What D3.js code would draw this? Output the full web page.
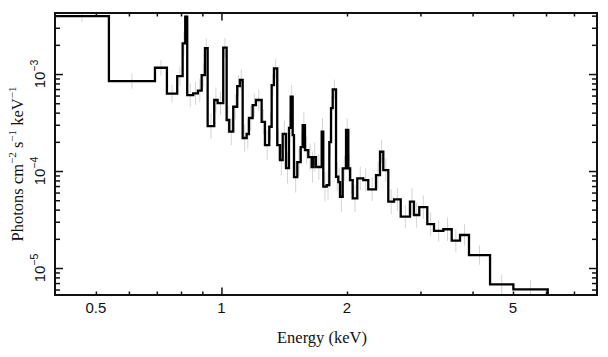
<!DOCTYPE html>
<html><head><meta charset="utf-8">
<script src="https://cdn.jsdelivr.net/npm/d3@7"></script>
<style>
html,body{margin:0;padding:0;background:#fff;}
svg{display:block;}
</style></head>
<body>
<svg id="chart" width="608" height="357"></svg>
<script>
// Bin edges (keV)
const binEdges = [0.399,0.5373,0.6928,0.7401,0.7834,0.8072,0.8188,0.8279,0.8557,0.8783,
  0.8966,0.9130,0.9267,0.9610,0.9792,1.0100,1.0291,1.0440,1.0673,1.0911,
  1.1074,1.1243,1.1493,1.1640,1.1880,1.2098,1.2485,1.2715,1.3020,1.3195,
  1.3363,1.3608,1.3815,1.4023,1.4280,1.4519,1.4654,1.4817,1.4926,1.5200,
  1.5487,1.5659,1.5859,1.6152,1.6456,1.6620,1.6852,1.7392,1.7546,1.7880,
  1.8139,1.8311,1.8484,1.8824,1.9064,1.9245,1.9531,1.9894,2.0147,2.0337,
  2.0640,2.1167,2.1878,2.2492,2.3472,2.3997,2.4435,2.5119,2.5929,2.6905,
  2.8314,2.8946,2.9804,3.1154,3.2332,3.4033,3.5648,3.7320,3.9219,4.4053,
  5.0104,6.0563];
// Model flux per bin (photons cm^-2 s^-1 keV^-1)
const modelFlux = [3.963e-3,8.47e-4,1.161e-3,6.29e-4,9.54e-4,2.072e-3,3.897e-3,6.07e-4,6.32e-4,6.76e-4,
  9.76e-4,1.853e-3,2.91e-4,5.40e-4,5.02e-4,1.875e-3,3.36e-4,2.55e-4,4.60e-4,7.52e-4,
  8.68e-4,2.19e-4,2.41e-4,3.52e-4,4.79e-4,5.40e-4,3.22e-4,1.853e-4,2.86e-4,7.70e-4,
  1.145e-3,1.853e-4,1.298e-4,2.41e-4,1.074e-4,2.78e-4,5.83e-4,2.35e-4,8.67e-5,1.238e-4,
  1.768e-4,2.98e-4,1.646e-4,1.394e-4,1.10e-4,1.394e-4,1.10e-4,2.54e-4,6.89e-5,7.17e-5,
  1.99e-4,4.46e-4,6.96e-4,8.73e-5,7.70e-5,5.43e-5,1.066e-4,2.65e-4,1.066e-4,8.07e-5,
  5.23e-5,8.41e-5,8.07e-5,6.48e-5,9.09e-5,1.581e-4,1.024e-4,4.83e-5,5.11e-5,3.38e-5,
  4.83e-5,3.52e-5,4.25e-5,2.84e-5,2.42e-5,2.51e-5,1.912e-5,2.19e-5,1.361e-5,6.79e-6,
  6.03e-6];
// Data error half-length per bin (decades)
const errDex = [0.06,0.08,0.08,0.09,0.10,0.12,0.10,0.12,0.12,0.12,
  0.12,0.10,0.13,0.13,0.12,0.10,0.14,0.14,0.13,0.11,
  0.11,0.14,0.15,0.13,0.12,0.11,0.13,0.15,0.14,0.11,
  0.10,0.15,0.16,0.14,0.16,0.15,0.12,0.15,0.16,0.14,
  0.14,0.13,0.14,0.14,0.16,0.15,0.13,0.14,0.15,0.15,
  0.14,0.12,0.10,0.15,0.15,0.16,0.13,0.12,0.14,0.14,
  0.14,0.12,0.12,0.12,0.14,0.12,0.12,0.13,0.12,0.12,
  0.14,0.13,0.12,0.12,0.11,0.12,0.12,0.11,0.10,0.10,
  0.10];
const xTickLabels = [0.5, 1, 2, 5];
const xMinorTicks = [0.5,0.6,0.7,0.8,0.9,2,3,4,5,6,7];
const xMajorTicks = [1];
const yMajorTicks = [1e-5, 1e-4, 1e-3];
const yTickExp = ["−5","−4","−3"];
const xDomain = [0.399, 7.95];
const yDomain = [5.27e-6, 4.26e-3];

const L = 55, R = 597, T = 13, B = 295;
const svg = d3.select("#chart");
const x = d3.scaleLog().domain(xDomain).range([L, R]);
const y = d3.scaleLog().domain(yDomain).range([B, T]);

svg.append("defs").append("clipPath").attr("id","clip")
  .append("rect").attr("x",L).attr("y",T).attr("width",R-L).attr("height",B-T);

const plot = svg.append("g").attr("clip-path","url(#clip)");

// error bars
const bins = modelFlux.map((v,i)=>({lo:binEdges[i], hi:binEdges[i+1], v, e:errDex[i]}));
plot.selectAll("line.err").data(bins).enter().append("line")
  .attr("class","err")
  .attr("x1", d=>x(Math.sqrt(d.lo*d.hi))).attr("x2", d=>x(Math.sqrt(d.lo*d.hi)))
  .attr("y1", d=>y(d.v*Math.pow(10,d.e))).attr("y2", d=>y(d.v*Math.pow(10,-d.e)))
  .attr("stroke","#d4d4d4").attr("stroke-width",1);

// step model
const pts = [];
bins.forEach(d=>{pts.push([d.lo,d.v]); pts.push([d.hi,d.v]);});
pts.push([binEdges[binEdges.length-1], yDomain[0]]);
const line = d3.line().x(d=>x(d[0])).y(d=>y(d[1]));
plot.append("path").attr("d", line(pts)).attr("fill","none")
  .attr("stroke","#000").attr("stroke-width",2.3).attr("stroke-linejoin","miter");

// axes ticks
const axisCol = "#111";
function xt(vals, len){
  svg.append("g").attr("transform",`translate(0,${B})`)
    .call(d3.axisBottom(x).tickValues(vals).tickSize(-len).tickFormat(""))
    .call(g=>{g.select(".domain").remove(); g.selectAll("line").attr("stroke",axisCol).attr("stroke-width",1.5);});
  svg.append("g").attr("transform",`translate(0,${T})`)
    .call(d3.axisTop(x).tickValues(vals).tickSize(-len).tickFormat(""))
    .call(g=>{g.select(".domain").remove(); g.selectAll("line").attr("stroke",axisCol).attr("stroke-width",1.5);});
}
xt(xMinorTicks, 3.5);
xt(xMajorTicks, 7.5);

const yAll = y.ticks().filter(v=>v>=yDomain[0] && v<=yDomain[1]);
const yMinor = yAll.filter(v=>!yMajorTicks.some(m=>Math.abs(m-v)/m<1e-6));
function yt(vals, len){
  svg.append("g").attr("transform",`translate(${L},0)`)
    .call(d3.axisLeft(y).tickValues(vals).tickSize(-len).tickFormat(""))
    .call(g=>{g.select(".domain").remove(); g.selectAll("line").attr("stroke",axisCol).attr("stroke-width",1.5);});
  svg.append("g").attr("transform",`translate(${R},0)`)
    .call(d3.axisRight(y).tickValues(vals).tickSize(-len).tickFormat(""))
    .call(g=>{g.select(".domain").remove(); g.selectAll("line").attr("stroke",axisCol).attr("stroke-width",1.5);});
}
yt(yMinor, 5);
yt(yMajorTicks, 8);

// frame
svg.append("rect").attr("x",L).attr("y",T).attr("width",R-L).attr("height",B-T)
  .attr("fill","none").attr("stroke",axisCol).attr("stroke-width",2);

// x tick labels
svg.selectAll("text.xl").data(xTickLabels).enter().append("text")
  .attr("x", d=>x(d)).attr("y", 313)
  .attr("text-anchor","middle")
  .attr("font-family","'Liberation Sans', Arial, sans-serif").attr("font-size",15)
  .attr("fill","#111")
  .text(d=>String(d));

// y tick labels (rotated)
yMajorTicks.forEach((v,i)=>{
  const t = svg.append("text")
    .attr("transform",`translate(45,${y(v)}) rotate(-90)`)
    .attr("text-anchor","middle")
    .attr("font-family","'Liberation Sans', Arial, sans-serif").attr("font-size",15)
    .attr("fill","#111");
  t.append("tspan").text("10");
  t.append("tspan").attr("dy",-7).attr("font-size",10.5).text(yTickExp[i]);
});

// axis titles
svg.append("text").attr("x",322).attr("y",343).attr("text-anchor","middle")
  .attr("font-family","'Liberation Serif', 'Times New Roman', serif").attr("font-size",16.5)
  .attr("fill","#111").text("Energy (keV)");

const yt2 = svg.append("text")
  .attr("transform","translate(23,164) rotate(-90)")
  .attr("text-anchor","middle")
  .attr("font-family","'Liberation Serif', 'Times New Roman', serif").attr("font-size",16.5)
  .attr("fill","#111");
const parts = [["Photons cm",null],["−2",true],[" s",false],["−1",true],[" keV",false],["−1",true]];
parts.forEach(([s,sup])=>{
  const ts = yt2.append("tspan").text(s);
  if(sup===true) ts.attr("dy",-7).attr("font-size",11);
  else if(sup===false) ts.attr("dy",7);
});
</script>
</body></html>
